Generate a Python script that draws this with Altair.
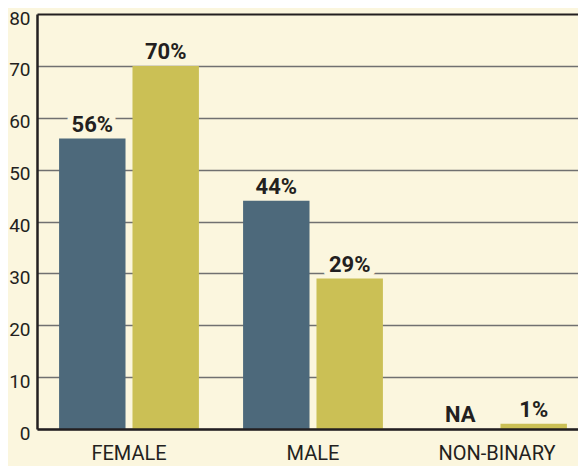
import altair as alt
import pandas as pd

groups = ["FEMALE", "FEMALE", "MALE", "MALE", "NON-BINARY", "NON-BINARY"]
series = ["A", "B", "A", "B", "A", "B"]
values = [56, 70, 44, 29, None, 1]
labels = ["56%", "70%", "44%", "29%", "NA", "1%"]
y_ticks = [0, 10, 20, 30, 40, 50, 60, 70, 80]

BG = "#fbf6de"
BLUE = "#4d697b"
YELLOW = "#cbc055"
INK = "#231f20"
FONT = "Roboto"

df = pd.DataFrame({"group": groups, "series": series, "value": values, "label": labels})
df["label_y"] = df["value"].fillna(0)

x_enc = alt.X(
    "group:N",
    sort=["FEMALE", "MALE", "NON-BINARY"],
    scale=alt.Scale(range=[0, 552], paddingInner=0.24, paddingOuter=0.12),
    axis=alt.Axis(
        title=None, labelAngle=0, labelAlign="center", labelBaseline="top", ticks=False,
        domainColor=INK, domainWidth=2.5,
        labelFont=FONT, labelFontSize=20, labelColor=INK, labelPadding=14, zindex=1,
    ),
)
xoff = alt.XOffset("series:N", scale=alt.Scale(paddingInner=0.095, paddingOuter=0))

y_scale = alt.Scale(domain=[0, 80], nice=False)
y_axis = alt.Axis(
    title=None, values=y_ticks, ticks=False, domainColor=INK, domainWidth=2.5,
    gridColor=alt.condition(alt.datum.value == 80, alt.value(INK), alt.value("#707070")),
    gridWidth=alt.condition(alt.datum.value == 80, alt.value(2), alt.value(1.5)),
    labelFont=FONT, labelFontSize=19, labelColor=INK, labelPadding=7, labelOffset=4,
)

base = alt.Chart(df)

bars = base.mark_bar().encode(
    x=x_enc,
    xOffset=xoff,
    y=alt.Y("value:Q", scale=y_scale, axis=y_axis),
    color=alt.Color("series:N", scale=alt.Scale(domain=["A", "B"], range=[BLUE, YELLOW]), legend=None),
)

halo = base.mark_text(
    font=FONT, fontSize=22, fontWeight="bold", baseline="alphabetic", dy=-7,
    stroke=BG, strokeWidth=12, strokeJoin="round", color=BG,
).encode(
    x=x_enc,
    xOffset=xoff,
    y=alt.Y("label_y:Q", scale=y_scale, axis=y_axis),
    text="label:N",
)

text = base.mark_text(
    font=FONT, fontSize=22, fontWeight="bold", baseline="alphabetic", dy=-7, color=INK,
).encode(
    x=x_enc,
    xOffset=xoff,
    y=alt.Y("label_y:Q", scale=y_scale, axis=y_axis),
    text="label:N",
)

chart = alt.layer(halo, bars, text).properties(
    width=541,
    height=415,
    background=BG,
    padding={"left": 29, "top": 6, "right": 0, "bottom": 37},
    autosize=alt.AutoSizeParams(type="none"),
).configure_view(stroke=None)

chart.save("out.html", embed_options={"renderer": "svg", "actions": False})
